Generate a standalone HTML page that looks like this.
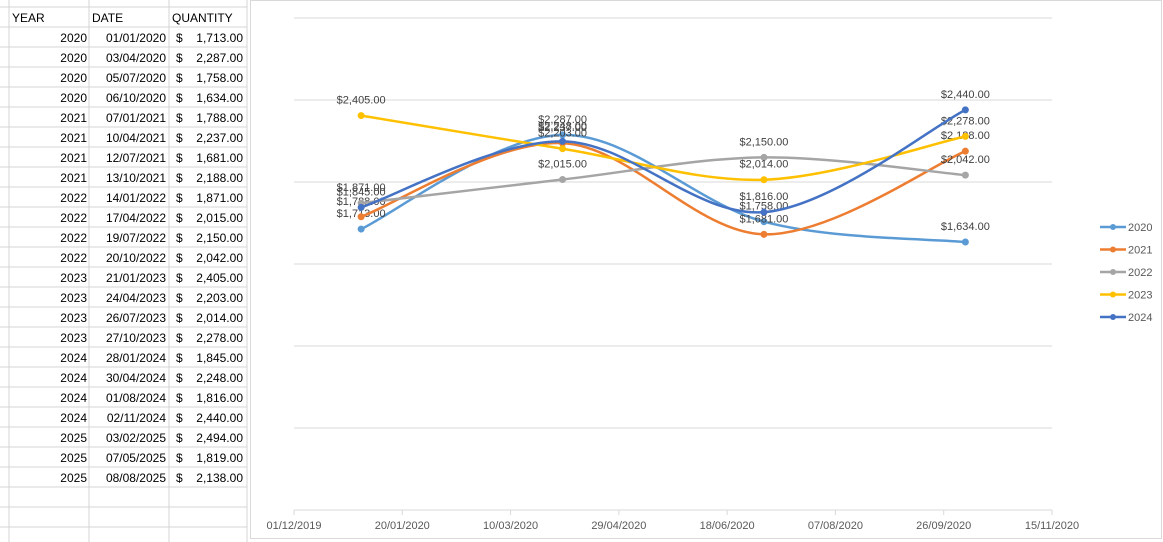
<!DOCTYPE html>
<html><head><meta charset="utf-8"><style>
body{margin:0;width:1163px;height:542px;overflow:hidden;background:#fff;font-family:"Liberation Sans",sans-serif;}
#sheet{position:absolute;left:0;top:0;width:250px;height:542px;}
#chart{position:absolute;left:0;top:0;}
</style></head><body>
<svg id="sheet" width="250" height="542"></svg>
<svg id="chart" width="1163" height="542"></svg>
<script>
const NS="http://www.w3.org/2000/svg";
function mk(p,t,a){const e=document.createElementNS(NS,t);for(const k in a)e.setAttribute(k,a[k]);p.appendChild(e);return e;}
// spreadsheet data
const years=[2020,2020,2020,2020,2021,2021,2021,2021,2022,2022,2022,2022,2023,2023,2023,2023,2024,2024,2024,2024,2025,2025,2025];
const dates=["01/01/2020","03/04/2020","05/07/2020","06/10/2020","07/01/2021","10/04/2021","12/07/2021","13/10/2021","14/01/2022","17/04/2022","19/07/2022","20/10/2022","21/01/2023","24/04/2023","26/07/2023","27/10/2023","28/01/2024","30/04/2024","01/08/2024","02/11/2024","03/02/2025","07/05/2025","08/08/2025"];
const qty=["1,713.00","2,287.00","1,758.00","1,634.00","1,788.00","2,237.00","1,681.00","2,188.00","1,871.00","2,015.00","2,150.00","2,042.00","2,405.00","2,203.00","2,014.00","2,278.00","1,845.00","2,248.00","1,816.00","2,440.00","2,494.00","1,819.00","2,138.00"];
const sh=document.getElementById('sheet');
const cols=[9,89,169,247];
for(const x of cols){const l=mk(sh,'line',{x1:x,y1:0,x2:x,y2:542,stroke:'#d4d4d4'});}
for(let y=7;y<542;y+=20){const l=mk(sh,'line',{x1:0,y1:y,x2:247,y2:y,stroke:'#d4d4d4'});}
function st(x,y,s,anchor,name){const t=mk(sh,'text',{x:x,y:y,'font-size':12,fill:'#000','text-anchor':anchor});t.textContent=s;return t;}
st(12,22,'YEAR','start','header-year');st(92,22,'DATE','start','header-date');st(172,22,'QUANTITY','start','header-quantity');
for(let i=0;i<years.length;i++){const y=42+i*20;st(87,y,String(years[i]),'end','cell-year');st(166,y,dates[i],'end','cell-date');st(176,y,'$','start','cell-currency');st(243,y,qty[i],'end','cell-quantity');}

// chart data
const xDays=[31,124,217,310]; // days after 01/12/2019 (2020 dates)
const seriesNames=["2020","2021","2022","2023","2024"];
const s2020=[1713,2287,1758,1634];
const s2021=[1788,2237,1681,2188];
const s2022=[1871,2015,2150,2042];
const s2023=[2405,2203,2014,2278];
const s2024=[1845,2248,1816,2440];
const xTicks=["01/12/2019","20/01/2020","10/03/2020","29/04/2020","18/06/2020","07/08/2020","26/09/2020","15/11/2020"];
const yTicks=[0,500,1000,1500,2000,2500,3000];
const allSeries=[s2020,s2021,s2022,s2023,s2024];
const colors=["#5B9BD5","#ED7D31","#A5A5A5","#FFC000","#4472C4"];

const c=document.getElementById('chart');
const X=d=>294+d*(758/350);
const Y=v=>510-v*(492/3000);
const fr=mk(c,'rect',{x:250.5,y:0.5,width:911,height:538,fill:'none',stroke:'#d9d9d9'});

for(const v of yTicks){const l=mk(c,'line',{x1:294,x2:1052,y1:Y(v),y2:Y(v),stroke:'#d9d9d9'});}
xTicks.forEach((s,i)=>{const x=X(i*50);
const tk=mk(c,'line',{x1:x,x2:x,y1:510,y2:515,stroke:'#d9d9d9'});
const t=mk(c,'text',{x:x,y:529,'font-size':11,fill:'#595959','text-anchor':'middle'});t.textContent=s;});
function smooth(pts){let d=`M${pts[0][0]},${pts[0][1]}`;const k=1/6;
for(let i=0;i<pts.length-1;i++){const p0=pts[i-1]||pts[i],p1=pts[i],p2=pts[i+1],p3=pts[i+2]||p2;
d+=` C${p1[0]+(p2[0]-p0[0])*k},${p1[1]+(p2[1]-p0[1])*k} ${p2[0]-(p3[0]-p1[0])*k},${p2[1]-(p3[1]-p1[1])*k} ${p2[0]},${p2[1]}`;}return d;}
allSeries.forEach((vals,si)=>{
const pts=vals.map((v,i)=>[X(xDays[i]),Y(v)]);
const p=mk(c,'path',{d:smooth(pts),fill:'none',stroke:colors[si],'stroke-width':2.5});

pts.forEach((q,i)=>{const m=mk(c,'circle',{cx:q[0],cy:q[1],r:3.5,fill:colors[si]});

const t=mk(c,'text',{x:q[0],y:q[1]-12,'font-size':11,fill:'#404040','text-anchor':'middle'});
t.textContent='$'+vals[i].toLocaleString('en-US',{minimumFractionDigits:2});
});
const ly=227+si*22.5;
const ll=mk(c,'line',{x1:1100,x2:1126,y1:ly,y2:ly,stroke:colors[si],'stroke-width':2.5});
const lm=mk(c,'circle',{cx:1113,cy:ly,r:3,fill:colors[si]});
const lt=mk(c,'text',{x:1128,y:ly+4,'font-size':11,fill:'#595959'});lt.textContent=seriesNames[si];
});
</script>
</body></html>
